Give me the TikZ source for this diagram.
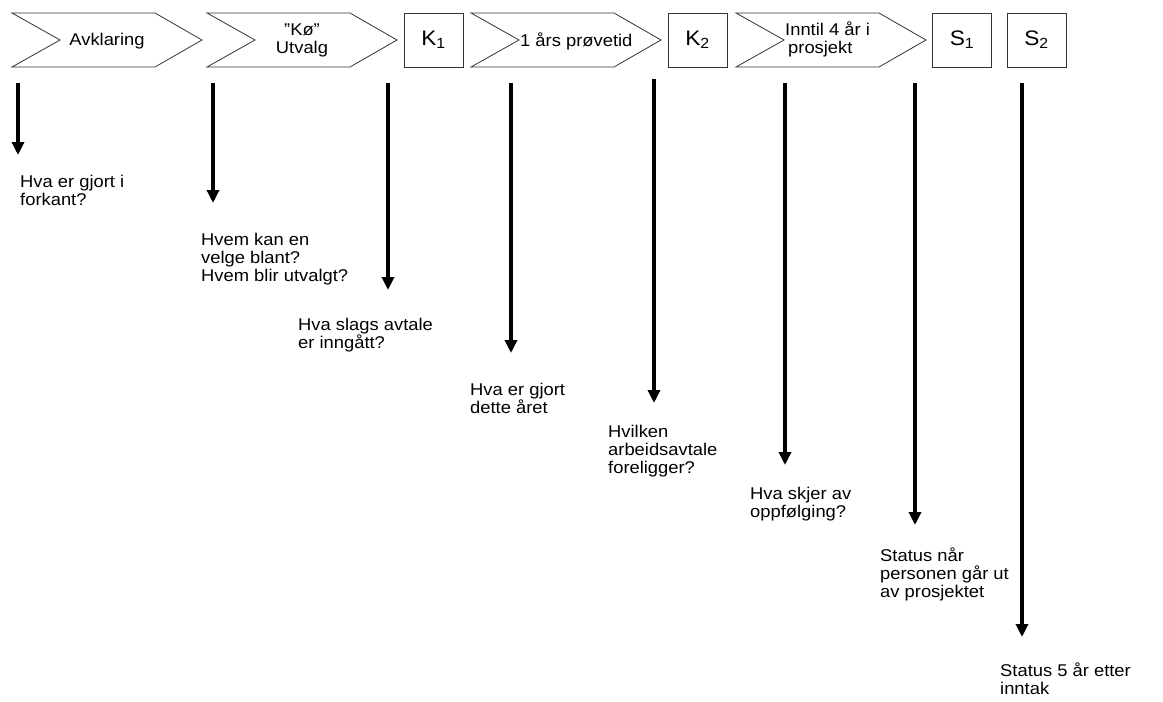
\documentclass[tikz,border=0pt]{standalone}
\usepackage{fontspec}
\setmainfont{Liberation Sans}[FakeStretch=1.08]
\usetikzlibrary{arrows.meta}

\tikzset{
  chev/.style={draw=black!80, line width=0.8pt},
  kbox/.style={draw=black!80, line width=0.8pt, minimum width=59pt, minimum height=54pt, inner sep=0pt, font=\fontsize{21}{23}\selectfont},
  lab/.style={inner sep=0pt, font=\fontsize{17}{18}\selectfont},
  sporsmal/.style={inner sep=0pt, align=left, anchor=north west, font=\fontsize{17}{18}\selectfont},
  pil/.style={line width=3.6pt, -{Triangle[width=12pt,length=13pt]}},
}

\begin{document}
\begin{tikzpicture}[x=1pt, y=-1pt]
    \useasboundingbox (0,0) rectangle (1163,702);

    % Chevrons along the top
    \draw[chev] (12,13) -- ++(143,0) -- ++(47,27) -- ++(-47,27) -- ++(-143,0) -- ++(48,-27) -- cycle;
    \draw[chev] (207,13) -- ++(143,0) -- ++(47,27) -- ++(-47,27) -- ++(-143,0) -- ++(48,-27) -- cycle;
    \draw[chev] (471,13) -- ++(143,0) -- ++(47,27) -- ++(-47,27) -- ++(-143,0) -- ++(48,-27) -- cycle;
    \draw[chev] (736,13) -- ++(143,0) -- ++(47,27) -- ++(-47,27) -- ++(-143,0) -- ++(48,-27) -- cycle;

    \node[lab] (avklaring) at (107,41) {Avklaring};
    \node[lab, align=center] (utvalg) at (302,40) {”Kø”\\Utvalg};
    \node[lab, anchor=west] (provetid) at (520,41) {1 års prøvetid};
    \node[lab, align=left, anchor=west] (prosjekt) at (785,39) {Inntil 4 år i\\\hspace{3pt}prosjekt};

    % Check points
    \node[kbox] (k1) at (433.5,40) {K\textsubscript{1}};
    \node[kbox] (k2) at (697.5,40) {K\textsubscript{2}};
    \node[kbox] (s1) at (962,40) {S\textsubscript{1}};
    \node[kbox] (s2) at (1036.5,40) {S\textsubscript{2}};

    % Arrows
    \coordinate (a1) at (18,83);    \coordinate (b1) at (18,155);
    \coordinate (a2) at (213,83);   \coordinate (b2) at (213,203);
    \coordinate (a3) at (388,83);   \coordinate (b3) at (388,290);
    \coordinate (a4) at (511,83);   \coordinate (b4) at (511,353);
    \coordinate (a5) at (654,79);   \coordinate (b5) at (654,403);
    \coordinate (a6) at (785,83);   \coordinate (b6) at (785,465);
    \coordinate (a7) at (915,83);   \coordinate (b7) at (915,525);
    \coordinate (a8) at (1022,83);  \coordinate (b8) at (1022,637);

    \draw[pil] (a1) -- (b1);
    \draw[pil] (a2) -- (b2);
    \draw[pil] (a3) -- (b3);
    \draw[pil] (a4) -- (b4);
    \draw[pil] (a5) -- (b5);
    \draw[pil] (a6) -- (b6);
    \draw[pil] (a7) -- (b7);
    \draw[pil] (a8) -- (b8);

    % Questions
    \node[sporsmal] (q1) at (20,175) {Hva er gjort i\\forkant?};
    \node[sporsmal] (q2) at (201,233) {Hvem kan en\\velge blant?\\Hvem blir utvalgt?};
    \node[sporsmal] (q3) at (298,318) {Hva slags avtale\\er inngått?};
    \node[sporsmal] (q4) at (470,383) {Hva er gjort\\dette året};
    \node[sporsmal] (q5) at (608,425) {Hvilken\\arbeidsavtale\\foreligger?};
    \node[sporsmal] (q6) at (750,487) {Hva skjer av\\oppfølging?};
    \node[sporsmal] (q7) at (880,548) {Status når\\personen går ut\\av prosjektet};
    \node[sporsmal] (q8) at (1000,663) {Status 5 år etter\\inntak};

\end{tikzpicture}
\end{document}
